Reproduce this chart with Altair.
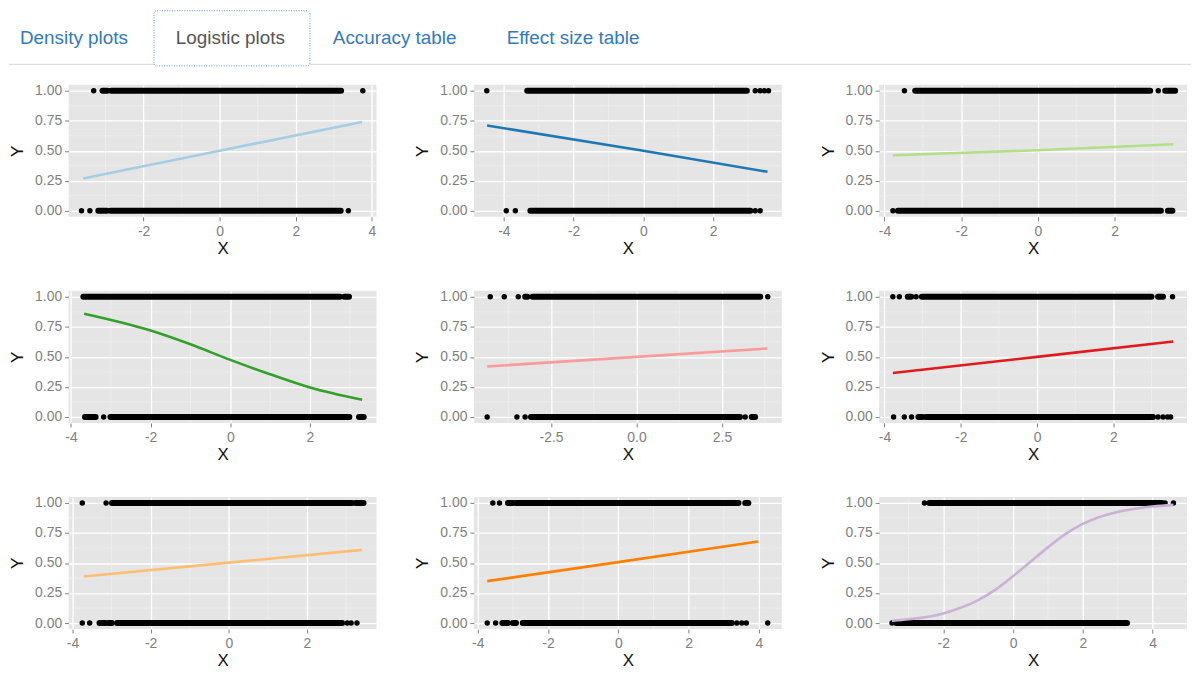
import altair as alt
import pandas as pd

# ---------------- header tabs ----------------
TAB_LABELS = ["Density plots", "Logistic plots", "Accuracy table", "Effect size table"]
TAB_COLORS = ["#337AB7", "#555555", "#337AB7", "#337AB7"]

# ---------------- panel settings ----------------
PANEL_COLORS = ["#A6CEE3", "#1F78B4", "#B2DF8A", "#33A02C", "#FB9A99",
                "#E31A1C", "#FDBF6F", "#FF7F00", "#CAB2D6"]
CURVE_INTERP = ["linear", "linear", "linear", "monotone", "linear",
                "linear", "linear", "linear", "monotone"]
X_DOMAINS = [[-3.97, 4.12], [-4.86, 3.97], [-4.14, 3.89],
             [-4.06, 3.67], [-4.76, 4.25], [-4.14, 3.93],
             [-4.10, 3.78], [-4.11, 4.65], [-3.84, 4.99]]
X_TICKS = [[-2, 0, 2, 4], [-4, -2, 0, 2], [-4, -2, 0, 2],
           [-4, -2, 0, 2], [-2.5, 0, 2.5], [-4, -2, 0, 2],
           [-4, -2, 0, 2], [-4, -2, 0, 2, 4], [-2, 0, 2, 4]]
X_FORMATS = ["d", "d", "d", "d", ".1f", "d", "d", "d", "d"]
X_MINOR = [[-3, -1, 1, 3], [-3, -1, 1, 3], [-3, -1, 1, 3],
           [-3, -1, 1, 3], [-3.75, -1.25, 1.25, 3.75], [-3, -1, 1, 3],
           [-3, -1, 1, 3], [-3, -1, 1, 3], [-3, -1, 1, 3]]
Y_TICKS = [0, 0.25, 0.5, 0.75, 1.0]
Y_MINOR = [0.125, 0.375, 0.625, 0.875]

# ---------------- panel data ----------------
# fitted curves
P1_CURVE_X = [-3.59, 0, 3.74]
P1_CURVE_Y = [0.27, 0.50, 0.74]
P2_CURVE_X = [-4.48, 0, 3.56]
P2_CURVE_Y = [0.71, 0.50, 0.325]
P3_CURVE_X = [-3.78, 0, 3.53]
P3_CURVE_Y = [0.463, 0.505, 0.554]
P4_CURVE_X = [-3.67, -2, -1, 0, 1, 2, 3.31]
P4_CURVE_Y = [0.86, 0.72, 0.605, 0.475, 0.355, 0.245, 0.143]
P5_CURVE_X = [-4.37, 0, 3.83]
P5_CURVE_Y = [0.42, 0.50, 0.57]
P6_CURVE_X = [-3.78, 0, 3.57]
P6_CURVE_Y = [0.366, 0.50, 0.628]
P7_CURVE_X = [-3.71, 0, 3.41]
P7_CURVE_Y = [0.388, 0.503, 0.609]
P8_CURVE_X = [-3.73, 0, 3.98]
P8_CURVE_Y = [0.349, 0.507, 0.679]
P9_CURVE_X = [-3.47, -3, -2, -1, -0.5, 0, 0.5, 1, 1.5, 2, 2.5, 3, 4, 4.6]
P9_CURVE_Y = [0.02, 0.031, 0.08, 0.19, 0.278, 0.39, 0.51, 0.63, 0.74, 0.825, 0.885, 0.925, 0.97, 0.984]

# observations: dense runs (start, end) and isolated points at Y = 1 and Y = 0
P1_ONES_RUNS = [(-3.08, -2.95), (-2.85, 3.19)]
P1_ONES_PTS = [-3.31, 3.76]
P1_ZEROS_RUNS = [(-3.19, -2.96), (-2.87, 3.18)]
P1_ZEROS_PTS = [-3.63, -3.41, 3.38]

P2_ONES_RUNS = [(-3.33, 2.97)]
P2_ONES_PTS = [-4.49, 3.21, 3.35, 3.47, 3.59]
P2_ZEROS_RUNS = [(-3.24, 3.07)]
P2_ZEROS_PTS = [-3.93, -3.67, 3.21, 3.35]

P3_ONES_RUNS = [(-3.20, 2.93), (3.32, 3.58)]
P3_ONES_PTS = [-3.48, 3.14]
P3_ZEROS_RUNS = [(-3.65, 3.21), (3.39, 3.51)]
P3_ZEROS_PTS = [-3.78]

P4_ONES_RUNS = [(-3.69, 2.75), (2.86, 2.98)]
P4_ONES_PTS = []
P4_ZEROS_RUNS = [(-3.65, -3.38), (-3.01, 2.99), (3.23, 3.35)]
P4_ZEROS_PTS = [-3.18]

P5_ONES_RUNS = [(-3.26, -3.19), (-3.04, 3.62)]
P5_ONES_PTS = [-4.28, -3.87, -3.46, 3.84]
P5_ZEROS_RUNS = [(-3.09, 3.03), (3.37, 3.47)]
P5_ZEROS_PTS = [-4.37, -3.50, -3.26, 3.18]

P6_ONES_RUNS = [(-3.39, -3.30), (-3.02, 3.00), (3.17, 3.30)]
P6_ONES_PTS = [-3.78, -3.61, -3.17, 3.55]
P6_ZEROS_RUNS = [(-3.11, -3.00), (-2.91, 3.04)]
P6_ZEROS_PTS = [-3.76, -3.48, -3.29, 3.17, 3.30, 3.42, 3.50]

P7_ONES_RUNS = [(-2.99, 3.15), (3.24, 3.45)]
P7_ONES_PTS = [-3.75, -3.14]
P7_ZEROS_RUNS = [(-3.31, -3.16), (-3.08, -2.99), (-2.86, 2.90)]
P7_ZEROS_PTS = [-3.75, -3.56, 3.03, 3.13, 3.28]

P8_ONES_RUNS = [(-3.14, -3.00), (-2.91, 3.42), (3.61, 3.70)]
P8_ONES_PTS = [-3.57, -3.38]
P8_ZEROS_RUNS = [(-3.30, -3.14), (-3.00, -2.91), (-2.72, 3.23)]
P8_ZEROS_PTS = [-3.73, -3.49, 3.37, 3.51, 3.64, 4.25]

P9_ONES_RUNS = [(-2.40, 4.27)]
P9_ONES_PTS = [-2.54, 4.36, 4.60]
P9_ZEROS_RUNS = [(-3.35, 3.27)]
P9_ZEROS_PTS = [-3.47]

PANELS = [
    (P1_CURVE_X, P1_CURVE_Y, P1_ONES_RUNS, P1_ONES_PTS, P1_ZEROS_RUNS, P1_ZEROS_PTS),
    (P2_CURVE_X, P2_CURVE_Y, P2_ONES_RUNS, P2_ONES_PTS, P2_ZEROS_RUNS, P2_ZEROS_PTS),
    (P3_CURVE_X, P3_CURVE_Y, P3_ONES_RUNS, P3_ONES_PTS, P3_ZEROS_RUNS, P3_ZEROS_PTS),
    (P4_CURVE_X, P4_CURVE_Y, P4_ONES_RUNS, P4_ONES_PTS, P4_ZEROS_RUNS, P4_ZEROS_PTS),
    (P5_CURVE_X, P5_CURVE_Y, P5_ONES_RUNS, P5_ONES_PTS, P5_ZEROS_RUNS, P5_ZEROS_PTS),
    (P6_CURVE_X, P6_CURVE_Y, P6_ONES_RUNS, P6_ONES_PTS, P6_ZEROS_RUNS, P6_ZEROS_PTS),
    (P7_CURVE_X, P7_CURVE_Y, P7_ONES_RUNS, P7_ONES_PTS, P7_ZEROS_RUNS, P7_ZEROS_PTS),
    (P8_CURVE_X, P8_CURVE_Y, P8_ONES_RUNS, P8_ONES_PTS, P8_ZEROS_RUNS, P8_ZEROS_PTS),
    (P9_CURVE_X, P9_CURVE_Y, P9_ONES_RUNS, P9_ONES_PTS, P9_ZEROS_RUNS, P9_ZEROS_PTS),
]

PW, PH = 310, 133
LABEL_GREY = "#7F7F7F"


def make_panel(i):
    cx, cy, ones_runs, ones_pts, zeros_runs, zeros_pts = PANELS[i]
    xs = alt.Scale(domain=X_DOMAINS[i], nice=False, zero=False)
    ys = alt.Scale(domain=[-0.05, 1.05], nice=False, zero=False)
    xaxis = alt.Axis(values=X_TICKS[i], format=X_FORMATS[i],
                     labelExpr="replace(datum.label, '\u2212', '-')",
                     title="X", grid=True, gridColor="white", gridWidth=1.3,
                     domain=False, tickColor=LABEL_GREY, tickSize=4, tickWidth=1,
                     labelColor=LABEL_GREY, labelFontSize=14, labelPadding=4,
                     labelFont="Liberation Sans",
                     titleFontSize=17, titleFontWeight="normal", titleColor="#111111",
                     titlePadding=2, titleFont="Liberation Sans")
    yaxis = alt.Axis(values=Y_TICKS, format=".2f", title="Y", grid=True,
                     gridColor="white", gridWidth=1.3, domain=False,
                     tickColor=LABEL_GREY, tickSize=4, tickWidth=1,
                     labelColor=LABEL_GREY, labelFontSize=14, labelPadding=3,
                     labelFont="Liberation Sans",
                     titleFontSize=17, titleFontWeight="normal", titleColor="#111111",
                     titlePadding=8, titleFont="Liberation Sans")

    minor_x = alt.Chart(pd.DataFrame({"v": X_MINOR[i]})).mark_rule(
        color="#F2F2F2", strokeWidth=0.6).encode(
        x=alt.X("v:Q", scale=xs, axis=xaxis))
    minor_y = alt.Chart(pd.DataFrame({"v": Y_MINOR})).mark_rule(
        color="#F2F2F2", strokeWidth=0.6).encode(
        y=alt.Y("v:Q", scale=ys, axis=yaxis))

    runs_df = pd.DataFrame(
        [{"start": a, "end": b, "y": 1.0} for a, b in ones_runs]
        + [{"start": a, "end": b, "y": 0.0} for a, b in zeros_runs])
    runs = alt.Chart(runs_df).mark_rule(
        color="black", strokeWidth=6, strokeCap="round").encode(
        x=alt.X("start:Q", scale=xs, axis=xaxis), x2="end:Q",
        y=alt.Y("y:Q", scale=ys, axis=yaxis))

    pts_df = pd.DataFrame(
        [{"x": v, "y": 1.0} for v in ones_pts]
        + [{"x": v, "y": 0.0} for v in zeros_pts])
    pts = alt.Chart(pts_df).mark_circle(color="black", size=30, opacity=1).encode(
        x=alt.X("x:Q", scale=xs, axis=xaxis),
        y=alt.Y("y:Q", scale=ys, axis=yaxis))

    curve = alt.Chart(pd.DataFrame({"x": cx, "y": cy})).mark_line(
        color=PANEL_COLORS[i], strokeWidth=2.6, interpolate=CURVE_INTERP[i]).encode(
        x=alt.X("x:Q", scale=xs, axis=xaxis),
        y=alt.Y("y:Q", scale=ys, axis=yaxis))

    return alt.layer(minor_x, minor_y, runs, pts, curve).properties(
        width=PW, height=PH,
        view=alt.ViewBackground(fill="#E5E5E5", stroke=None))


# ---------------- header ----------------
hbase = alt.Chart(alt.Data(values=[{}]))
tab_line = hbase.mark_rule(color="#DDDDDD", strokeWidth=1.3).encode(
    x=alt.value(-60), x2=alt.value(1130), y=alt.value(54.5))
tab_box = hbase.mark_rect(fill="white", stroke="#5B9BD5", strokeDash=[1, 1.5],
                          strokeWidth=1, cornerRadius=3).encode(
    x=alt.value(86), x2=alt.value(243), y=alt.value(0.5), y2=alt.value(56))
TAB_X = [-49, 108, 266, 441]
tab_texts = [
    hbase.mark_text(text=lab, align="left", baseline="middle", fontSize=19,
                    font="Liberation Sans", color=col).encode(
        x=alt.value(tx), y=alt.value(27.5))
    for lab, col, tx in zip(TAB_LABELS, TAB_COLORS, TAB_X)
]
header = alt.layer(tab_line, tab_box, *tab_texts).properties(width=1126, height=58)

grid = alt.concat(*[make_panel(k) for k in range(9)], columns=3,
                  spacing={"row": 74.5, "column": 98}, bounds="flush")

chart = alt.vconcat(header, grid, spacing=17, bounds="flush").properties(
    padding=0).configure(font="Liberation Sans").configure_view(stroke=None)

chart.save("out.html", embed_options={"renderer": "svg", "actions": False})
